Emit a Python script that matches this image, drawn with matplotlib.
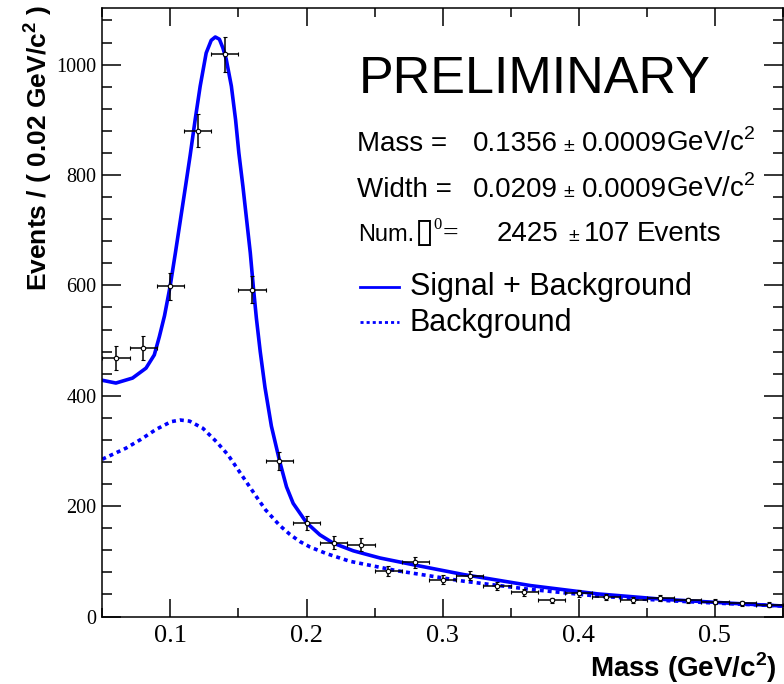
import numpy as np
import matplotlib.pyplot as plt
from matplotlib import font_manager
from matplotlib.ticker import MultipleLocator

# binned data (bin width 0.02 GeV/c^2)
mass = [0.06, 0.08, 0.10, 0.12, 0.14, 0.16, 0.18, 0.20, 0.22, 0.24, 0.26, 0.28, 0.30,
        0.32, 0.34, 0.36, 0.38, 0.40, 0.42, 0.44, 0.46, 0.48, 0.50, 0.52, 0.54]
events = [469, 487, 598, 880, 1019, 592, 282, 170, 134, 130, 83, 98, 67,
          74, 55, 44, 29, 42, 35, 30, 33, 29, 27, 24, 21]
events_err = [21.7, 22.1, 24.5, 29.7, 31.9, 24.3, 16.8, 13.0, 11.6, 11.4, 9.1, 9.9, 8.2,
              8.6, 7.4, 6.6, 5.4, 6.5, 5.9, 5.5, 5.7, 5.4, 5.2, 4.9, 4.6]

# fitted curves
fit_x = [0.0500, 0.0600, 0.0722, 0.0821, 0.0882, 0.0919, 0.0957, 0.0998, 0.1037, 0.1074,
         0.1111, 0.1145, 0.1182, 0.1219, 0.1263, 0.1300, 0.1330, 0.1360, 0.1386, 0.1410,
         0.1448, 0.1479, 0.1503, 0.1533, 0.1560, 0.1587, 0.1609, 0.1632, 0.1660, 0.1695,
         0.1742, 0.1803, 0.1853, 0.1902, 0.2000, 0.2098, 0.2196, 0.2344, 0.2540, 0.2800,
         0.3154, 0.3646, 0.4137, 0.4628, 0.5120, 0.5500]
fit_y = [428, 423, 432, 450, 474, 507, 545, 598, 659, 719,
         779, 835, 900, 961, 1021, 1044, 1050, 1046, 1030, 1010,
         961, 900, 840, 779, 719, 659, 598, 540, 480, 415,
         345, 281, 235, 205, 170, 148, 133, 119, 106, 93,
         76, 56, 41, 31, 24, 19]
bkg_x = [0.0500, 0.0674, 0.0784, 0.0895, 0.1005, 0.1072, 0.1141, 0.1239, 0.1337, 0.1423,
         0.1533, 0.1632, 0.1700, 0.1803, 0.1877, 0.1950, 0.2025, 0.2146, 0.2245, 0.2319,
         0.2663, 0.3154, 0.3646, 0.4137, 0.4628, 0.5120, 0.5500]
bkg_y = [285, 305, 321, 339, 353, 356, 354, 341, 317, 293,
         253, 217, 193, 165, 149, 136, 126, 114, 106, 100,
         83, 64, 49, 37, 29, 23, 19]

plt.rcParams['font.family'] = 'Liberation Sans'
plt.rcParams['mathtext.fontset'] = 'custom'
plt.rcParams['mathtext.rm'] = 'Liberation Sans'
plt.rcParams['mathtext.bf'] = 'Liberation Sans:bold'

# "Num." is drawn narrower in the original
try:
    font_manager.findfont('Liberation Sans Narrow', fallback_to_default=False)
    num_kw = dict(family='Liberation Sans Narrow', fontsize=20)
except Exception:
    num_kw = dict(fontsize=17)

W, H = 784, 684
fig = plt.figure(figsize=(W / 100, H / 100), dpi=100)
ax = fig.add_axes([102.3 / W, 1 - 616.5 / H, (783 - 102.3) / W, (616.5 - 8.3) / H])

blue = '#0000ff'
ax.plot(fit_x, fit_y, color=blue, lw=2.6, solid_joinstyle='round')
ax.plot(bkg_x, bkg_y, color=blue, lw=2.6, linestyle=(0, (1.1, 1.1)), dash_capstyle='butt')
ax.errorbar(mass, events, xerr=0.01, yerr=events_err, fmt='o', color='black',
            ms=3.2, mfc='white', mec='black', mew=0.8, elinewidth=1.1,
            capsize=1.5, capthick=1.1, zorder=3)

ax.set_xlim(0.05, 0.55)
ax.set_ylim(0, 1102)
ax.xaxis.set_major_locator(MultipleLocator(0.1))
ax.xaxis.set_minor_locator(MultipleLocator(0.05))
ax.yaxis.set_major_locator(MultipleLocator(200))
ax.yaxis.set_minor_locator(MultipleLocator(40))
ax.tick_params(which='both', direction='in', top=True, right=True, width=1.1)
ax.tick_params(axis='x', which='major', length=13, pad=6)
ax.tick_params(axis='x', which='minor', length=6.5)
ax.tick_params(axis='y', which='major', length=14, pad=4)
ax.tick_params(axis='y', which='minor', length=7)
ax.xaxis.set_major_formatter(lambda v, p: f'{v:g}')
for lab in ax.get_xticklabels():
    lab.set_fontfamily('Liberation Serif')
    lab.set_fontsize(19)
for lab in ax.get_yticklabels():
    lab.set_fontfamily('Liberation Serif')
    lab.set_fontsize(14.5)
for s in ax.spines.values():
    s.set_linewidth(1.1)


def ftext(x, y, s, **kw):
    fig.text(x / W, 1 - y / H, s, va='baseline', **kw)


ftext(777, 677, r'Mass (GeV/c$^{\mathbf{2}}$)', ha='right', fontsize=20, fontweight='bold')
fig.text(38 / W, 1 - 5 / H, r'Events / ( 0.02 GeV/c$^{\mathbf{2}}$ )', rotation=90,
         ha='center', va='top', fontsize=19, fontweight='bold')

ftext(359, 93, 'PRELIMINARY', fontsize=37.5)
ftext(357, 151, 'Mass =', fontsize=20)
ftext(473, 151, '0.1356', fontsize=20)
ftext(569, 151, '±', fontsize=14, ha='center')
ftext(582, 151, '0.0009', fontsize=20)
ftext(666, 151, r'GeV/c$^2$', fontsize=20)
ftext(357, 197, 'Width =', fontsize=20)
ftext(473, 197, '0.0209', fontsize=20)
ftext(569, 197, '±', fontsize=14, ha='center')
ftext(582, 197, '0.0009', fontsize=20)
ftext(666, 197, r'GeV/c$^2$', fontsize=20)
ftext(358, 241, 'Num.', **num_kw)
ftext(415, 242, '\u25af', fontsize=25, family='DejaVu Sans')
ftext(433, 229, '0', fontsize=12, family='Liberation Serif')
ftext(443, 241, '=', fontsize=20, family='Liberation Serif')
ftext(497, 241, '2425', fontsize=20)
ftext(574, 241, '±', fontsize=14, ha='center')
ftext(584, 241, '107', fontsize=20)
ftext(637, 241, 'Events', fontsize=20)

fig.add_artist(plt.Line2D([360 / W, 399 / W], [1 - 286.5 / H] * 2, color=blue, lw=2))
fig.add_artist(plt.Line2D([360 / W, 399 / W], [1 - 322 / H] * 2, color=blue, lw=2,
                          linestyle=(0, (1.1, 1.1))))
ftext(410, 295, 'Signal + Background', fontsize=22)
ftext(410, 331, 'Background', fontsize=22)

fig.savefig('out.png', dpi=100)
